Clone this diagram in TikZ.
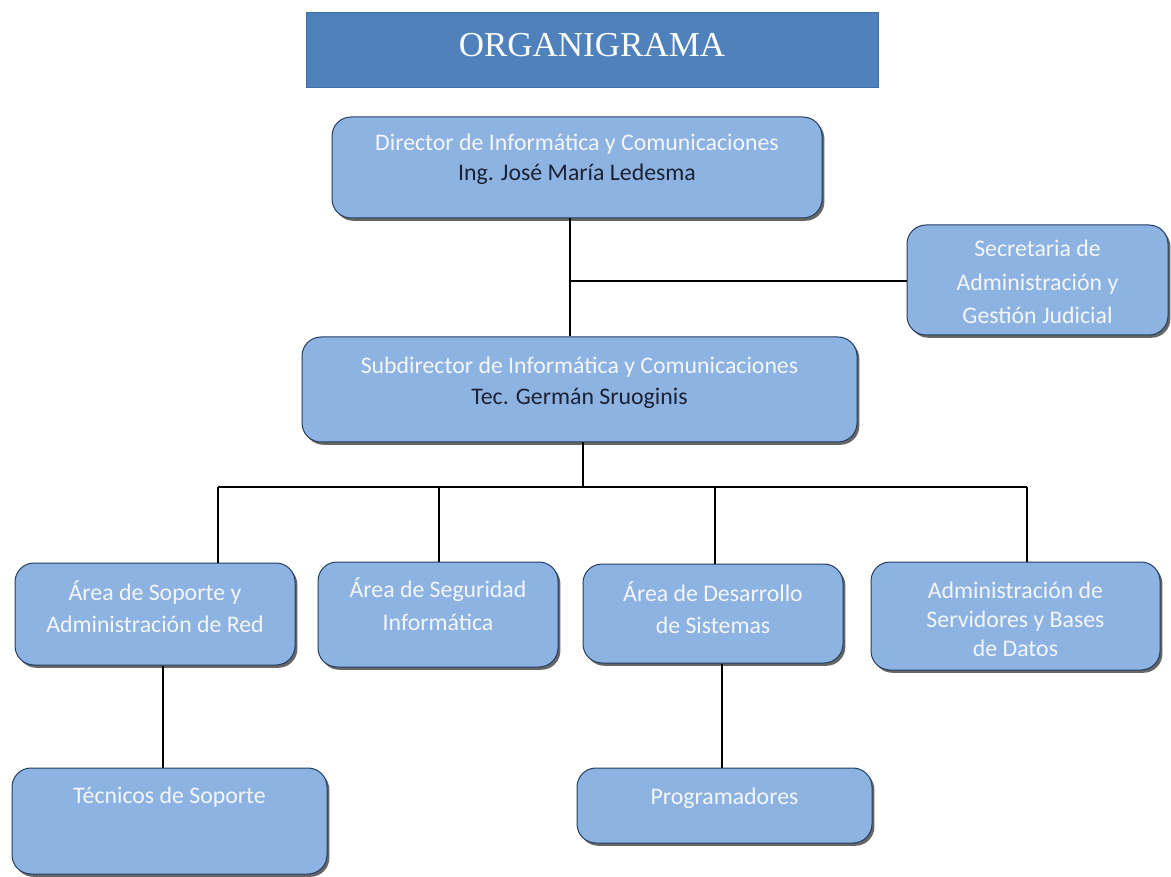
\documentclass[tikz,border=0pt]{standalone}
\usepackage{fontspec}
\setmainfont{Carlito}
\newfontfamily\titlefont{Liberation Serif}
\usetikzlibrary{shadows,calc}
\definecolor{boxfill}{HTML}{8DB3E2}
\definecolor{boxline}{HTML}{243F60}
\definecolor{titlefill}{HTML}{4F81BD}
\definecolor{lighttext}{HTML}{F4F6FA}
\definecolor{darktext}{HTML}{1C2233}
\begin{document}
\begin{tikzpicture}[x=1pt,y=-1pt,
  orgbox/.style={draw=boxline, line width=1pt, fill=boxfill, rounded corners=19pt,
    inner sep=0pt, drop shadow={shadow xshift=2.4pt, shadow yshift=-2.8pt, opacity=0.8, fill=black!75}},
  lbl/.style={anchor=base, font=\fontsize{23.8}{28}\selectfont, text=lighttext, inner sep=0pt},
  nm/.style={lbl, text=darktext},
  conn/.style={draw=black, line width=1.3pt}
]
\useasboundingbox[fill=white] (0,0) rectangle (1171,877);

% title
\node[fill=titlefill, draw=titlefill!85!black, line width=0.6pt, minimum width=572pt, minimum height=75pt, inner sep=0pt] (title) at (592,49.5) {};
\node[anchor=base, inner sep=0pt, text=white, font=\titlefont\fontsize{35}{40}\selectfont] (titlet) at (592,57) {ORGANIGRAMA};

% boxes
\node[orgbox, minimum width=490pt, minimum height=101pt] (dir) at (577,167.5) {};
\node[orgbox, minimum width=261pt, minimum height=110pt] (sec) at (1037.5,280) {};
\node[orgbox, minimum width=555pt, minimum height=105pt] (sub) at (579.5,389.5) {};
\node[orgbox, minimum width=280pt, minimum height=102pt] (a1) at (155,614) {};
\node[orgbox, minimum width=240pt, minimum height=105pt] (a2) at (438,614.5) {};
\node[orgbox, minimum width=260pt, minimum height=99pt] (a3) at (713,613.5) {};
\node[orgbox, minimum width=289pt, minimum height=108pt] (a4) at (1015.5,616) {};
\node[orgbox, minimum width=315pt, minimum height=106pt] (tec) at (169.5,821) {};
\node[orgbox, minimum width=295pt, minimum height=75pt] (prog) at (724.5,805.5) {};

% texts
\node[lbl] (dirt1) at (577,151) {Director de Informática y Comunicaciones};
\node[nm]  (dirt2) at (577,181) {Ing. José María Ledesma};
\node[lbl] (sect1) at (1037.5,257) {Secretaria de};
\node[lbl] (sect2) at (1037.5,291) {Administración y};
\node[lbl] (sect3) at (1037.5,324) {Gestión Judicial};
\node[lbl] (subt1) at (579.5,374) {Subdirector de Informática y Comunicaciones};
\node[nm]  (subt2) at (579.5,405) {Tec. Germán Sruoginis};
\node[lbl] (a1t1) at (155,600) {Área de Soporte y};
\node[lbl] (a1t2) at (155,632) {Administración de Red};
\node[lbl] (a2t1) at (438,597) {Área de Seguridad};
\node[lbl] (a2t2) at (438,630) {Informática};
\node[lbl] (a3t1) at (713,601) {Área de Desarrollo};
\node[lbl] (a3t2) at (713,633) {de Sistemas};
\node[lbl] (a4t1) at (1015.5,598) {Administración de};
\node[lbl] (a4t2) at (1015.5,627) {Servidores y Bases};
\node[lbl] (a4t3) at (1015.5,656) {de Datos};
\node[lbl] (tect) at (169.5,803) {Técnicos de Soporte};
\node[lbl] (progt) at (724.5,804) {Programadores};

% junction coordinates
\coordinate (j1) at (570,281);
\coordinate (j2) at (583,487);
\coordinate (h1) at (218,487);
\coordinate (h2) at (439,487);
\coordinate (h3) at (715,487);
\coordinate (h4) at (1027,487);
\coordinate (v1) at (163,700);
\coordinate (v2) at (722,700);

% connectors
\draw[conn] (dir.south -| j1) -- (sub.north -| j1);
\draw[conn] (j1) -- (j1 -| sec.west);
\draw[conn] (sub.south -| j2) -- (j2);
\draw[conn] (h1) -- (h4);
\draw[conn] (h1) -- (h1 |- a1.north);
\draw[conn] (h2) -- (h2 |- a2.north);
\draw[conn] (h3) -- (h3 |- a3.north);
\draw[conn] (h4) -- (h4 |- a4.north);
\draw[conn] (a1.south -| v1) -- (tec.north -| v1);
\draw[conn] (a3.south -| v2) -- (prog.north -| v2);
\end{tikzpicture}
\end{document}
